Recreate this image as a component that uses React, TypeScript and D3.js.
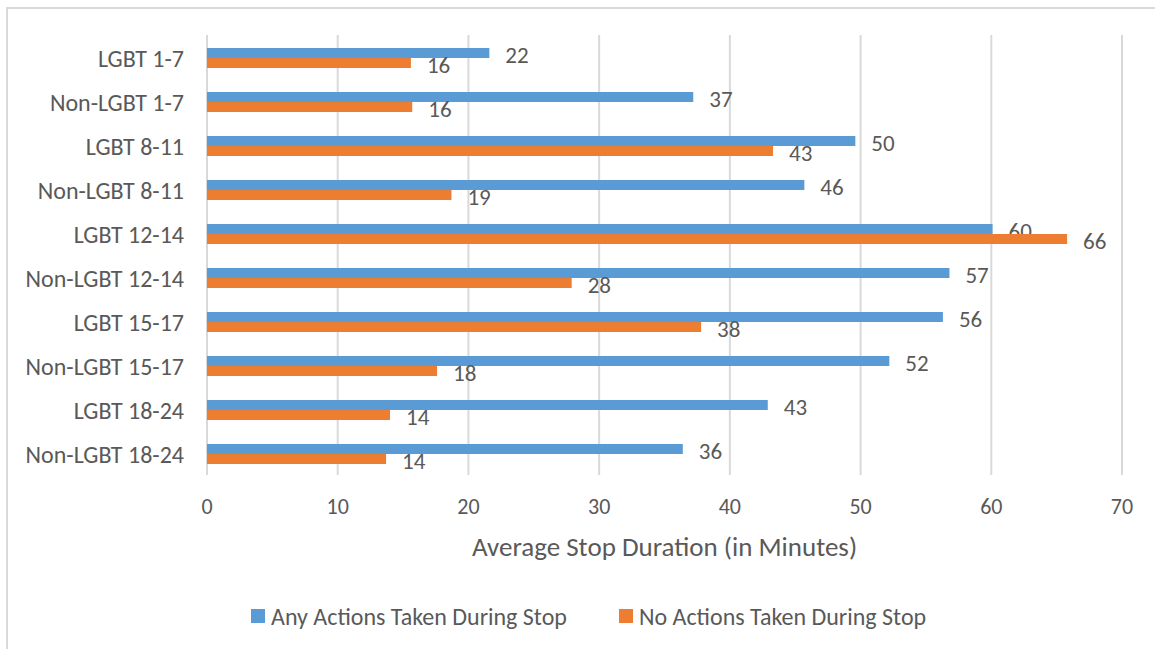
import React from "react";
import * as d3 from "d3";

const categories = [
  "LGBT 1-7",
  "Non-LGBT 1-7",
  "LGBT 8-11",
  "Non-LGBT 8-11",
  "LGBT 12-14",
  "Non-LGBT 12-14",
  "LGBT 15-17",
  "Non-LGBT 15-17",
  "LGBT 18-24",
  "Non-LGBT 18-24",
];
const anyActions = [21.6, 37.2, 49.6, 45.7, 60.1, 56.8, 56.3, 52.2, 42.9, 36.4];
const noActions = [15.6, 15.7, 43.3, 18.7, 65.8, 27.9, 37.8, 17.6, 14.0, 13.7];
const seriesNames = ["Any Actions Taken During Stop", "No Actions Taken During Stop"];
const xTicks = [0, 10, 20, 30, 40, 50, 60, 70];
const axisTitle = "Average Stop Duration (in Minutes)";

const W = 1155;
const H = 649;
const FONT = "Carlito, Lato, 'Open Sans', sans-serif";
const TEXT = "#595959";
const GRID = "#D9D9D9";
const BLUE = "#5B9BD5";
const ORANGE = "#ED7D31";

export default function App() {
  const x = d3.scaleLinear().domain([0, 70]).range([207, 1122]);
  const y = d3.scaleBand<string>().domain(categories).range([36, 476]);
  const barH = 10;
  const fmt = d3.format(".0f");
  const series = [
    { name: seriesNames[0], values: anyActions, color: BLUE, off: -barH },
    { name: seriesNames[1], values: noActions, color: ORANGE, off: 0 },
  ];
  const [y0, y1] = [35, 475];

  return (
    <svg
      width={W}
      height={H}
      style={{ position: "absolute", left: 0, top: 0, background: "#fff" }}
      fontFamily={FONT}
    >
      <rect x={7} y={8} width={W} height={H} fill="#fff" stroke={GRID} strokeWidth={2} />
      {xTicks.map((t) => (
        <g key={t}>
          <line x1={x(t)} x2={x(t)} y1={y0} y2={y1} stroke={GRID} strokeWidth={2} />
          <text x={x(t)} y={506} textAnchor="middle" dominantBaseline="central" fontSize={22} fill={TEXT}>
            {t}
          </text>
        </g>
      ))}
      {categories.map((c) => {
        const cy = (y(c) as number) + y.bandwidth() / 2;
        return (
          <text key={c} x={184} y={cy} textAnchor="end" dominantBaseline="central" fontSize={24} fill={TEXT}>
            {c}
          </text>
        );
      })}
      {series.map((s) =>
        categories.map((c, i) => {
          const cy = (y(c) as number) + y.bandwidth() / 2;
          const v = s.values[i];
          return (
            <g key={s.name + c}>
              <rect x={x(0)} y={cy + s.off} width={x(v) - x(0)} height={barH} fill={s.color} />
              <text
                x={x(v) + 16}
                y={cy + s.off + barH / 2 + 2}
                dominantBaseline="central"
                fontSize={23}
                fill={TEXT}
              >
                {fmt(v)}
              </text>
            </g>
          );
        })
      )}
      <text x={(x(0) + x(70)) / 2} y={546} textAnchor="middle" dominantBaseline="central" fontSize={27} fill={TEXT}>
        {axisTitle}
      </text>
      {series.map((s, i) => {
        const lx = i === 0 ? 251 : 619;
        return (
          <g key={"leg" + i}>
            <rect x={lx} y={609} width={14} height={14} fill={s.color} />
            <text x={lx + 20} y={616} dominantBaseline="central" fontSize={24} fill={TEXT}>
              {s.name}
            </text>
          </g>
        );
      })}
    </svg>
  );
}
